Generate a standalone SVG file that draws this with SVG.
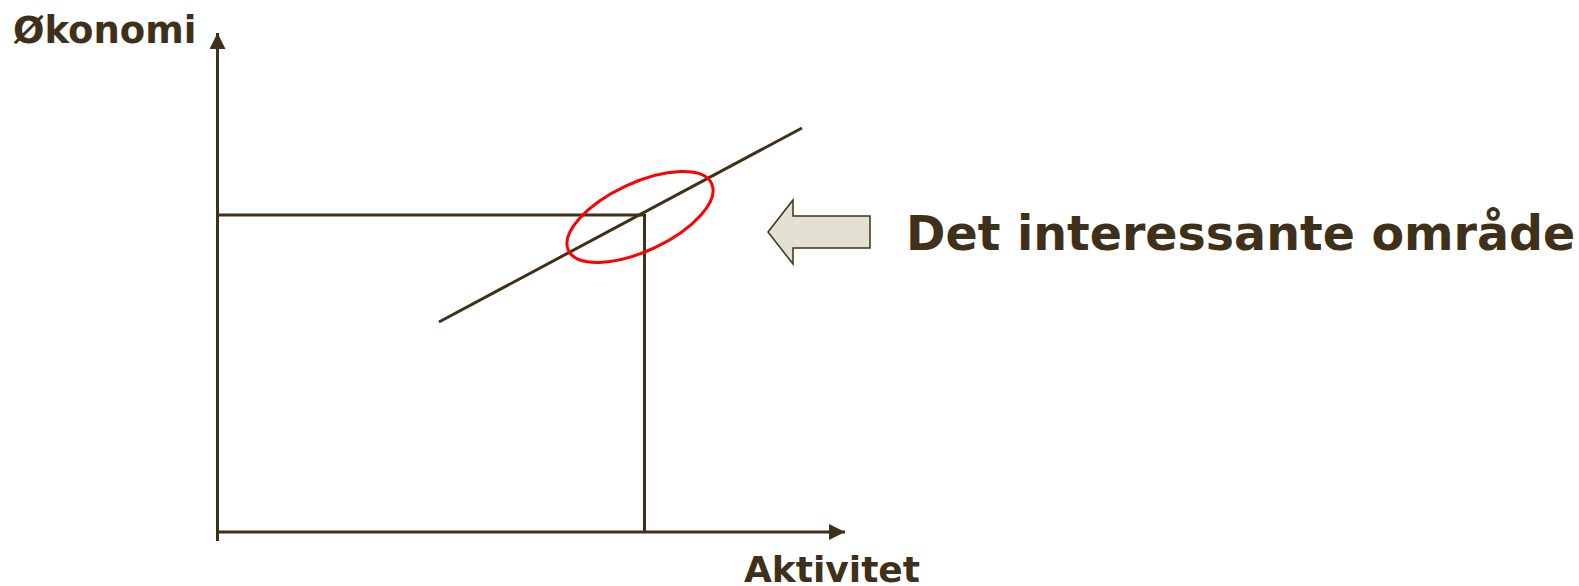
<svg xmlns="http://www.w3.org/2000/svg" width="1579" height="586" viewBox="0 0 1579 586">
<style>
.ln{stroke:#3f3119;stroke-width:3;fill:none}
.lbl{font-family:"DejaVu Sans",Verdana,sans-serif;font-weight:bold;fill:#3f3119}
</style>
<defs>
<marker id="ah" markerUnits="userSpaceOnUse" markerWidth="18" markerHeight="18" refX="16" refY="8" orient="auto">
<path d="M0,0 L16,8 L0,16 Z" fill="#3f3119"/>
</marker>
</defs>
<rect width="1579" height="586" fill="#fff"/>
<g id="connectors">
<line class="ln" x1="217.5" y1="541" x2="217.5" y2="33" marker-end="url(#ah)"/>
<line class="ln" x1="216" y1="532" x2="845" y2="532" marker-end="url(#ah)"/>
<line class="ln" x1="217" y1="215" x2="645" y2="215"/>
<line class="ln" x1="644.5" y1="214" x2="644.5" y2="532"/>
<line class="ln" x1="439" y1="322" x2="802" y2="128"/>
</g>
<g id="highlight">
<ellipse cx="640" cy="217" rx="79" ry="34" transform="rotate(-25 640 217)" fill="none" stroke="#ff0000" stroke-width="3"/>
</g>
<g id="pointer">
<path d="M768,232 L793,200 L793,216 L870,216 L870,248 L793,248 L793,264 Z" fill="#e3dfd3" stroke="#3f3119" stroke-width="1.5"/>
</g>
<g id="label-y"><text class="lbl" x="13" y="43" font-size="37">Økonomi</text></g>
<g id="label-x"><text class="lbl" x="744" y="582" font-size="36">Aktivitet</text></g>
<g id="label-area"><text class="lbl" x="906" y="250" font-size="47.5">Det interessante område</text></g>
</svg>
